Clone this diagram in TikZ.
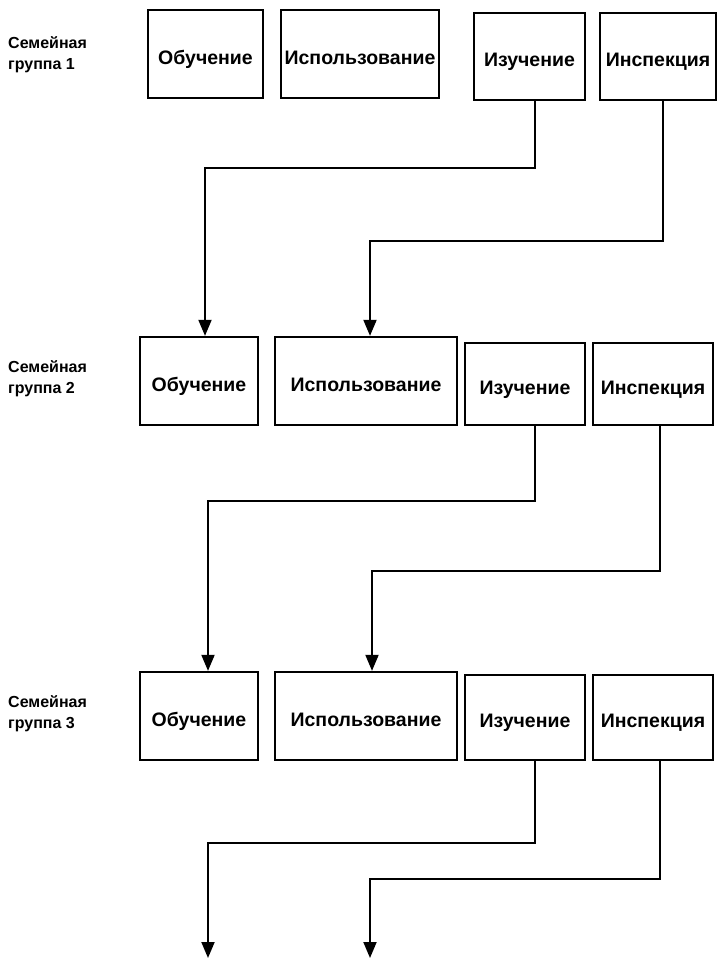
\documentclass[tikz,border=0pt]{standalone}
\usepackage{fontspec}
\setmainfont{Liberation Sans}
\usetikzlibrary{arrows.meta}
\begin{document}
\begin{tikzpicture}[x=1pt,y=-1pt,
  box/.style={draw,line width=2.3pt,inner sep=0pt,text height=20pt,text depth=0pt,font=\bfseries\fontsize{19.5}{22}\selectfont,text=black},
  grp/.style={align=left,anchor=west,inner sep=0pt,font=\bfseries\fontsize{16}{21}\selectfont},
  conn/.style={line width=1.9pt,-{Triangle[width=13pt,length=16pt]}}]
\useasboundingbox (0,0) rectangle (727,961);
% Row 1
\node[grp] (g1) at (8,55) {Семейная\\группа 1};
\node[box,minimum width=115,minimum height=88] (ob1) at (205.5,54) {Обучение};
\node[box,minimum width=158,minimum height=88] (is1) at (360,54) {Использование};
\node[box,minimum width=111,minimum height=87] (iz1) at (529.5,56.5) {Изучение};
\node[box,minimum width=116,minimum height=87] (in1) at (658,56.5) {Инспекция};
% Row 2
\node[grp] (g2) at (8,379) {Семейная\\группа 2};
\node[box,minimum width=118,minimum height=88] (ob2) at (199,381) {Обучение};
\node[box,minimum width=182,minimum height=88] (is2) at (366,381) {Использование};
\node[box,minimum width=120,minimum height=82] (iz2) at (525,384) {Изучение};
\node[box,minimum width=120,minimum height=82] (in2) at (653,384) {Инспекция};
% Row 3
\node[grp] (g3) at (8,714) {Семейная\\группа 3};
\node[box,minimum width=118,minimum height=88] (ob3) at (199,716) {Обучение};
\node[box,minimum width=182,minimum height=88] (is3) at (366,716) {Использование};
\node[box,minimum width=120,minimum height=85] (iz3) at (525,717.5) {Изучение};
\node[box,minimum width=120,minimum height=85] (in3) at (653,717.5) {Инспекция};
\coordinate (e1) at (208,958);
\coordinate (e2) at (370,958);
% Connectors
\draw[conn] ([xshift=5.5]iz1.south) -- ++(0,67) -| ([xshift=6]ob2.north);
\draw[conn] ([xshift=5]in1.south) -- ++(0,140) -| ([xshift=4]is2.north);
\draw[conn] ([xshift=10]iz2.south) -- ++(0,75) -| ([xshift=9]ob3.north);
\draw[conn] ([xshift=7]in2.south) -- ++(0,145) -| ([xshift=6]is3.north);
\draw[conn] ([xshift=10]iz3.south) -- ++(0,82) -| (e1);
\draw[conn] ([xshift=7]in3.south) -- ++(0,118) -| (e2);
\end{tikzpicture}
\end{document}
